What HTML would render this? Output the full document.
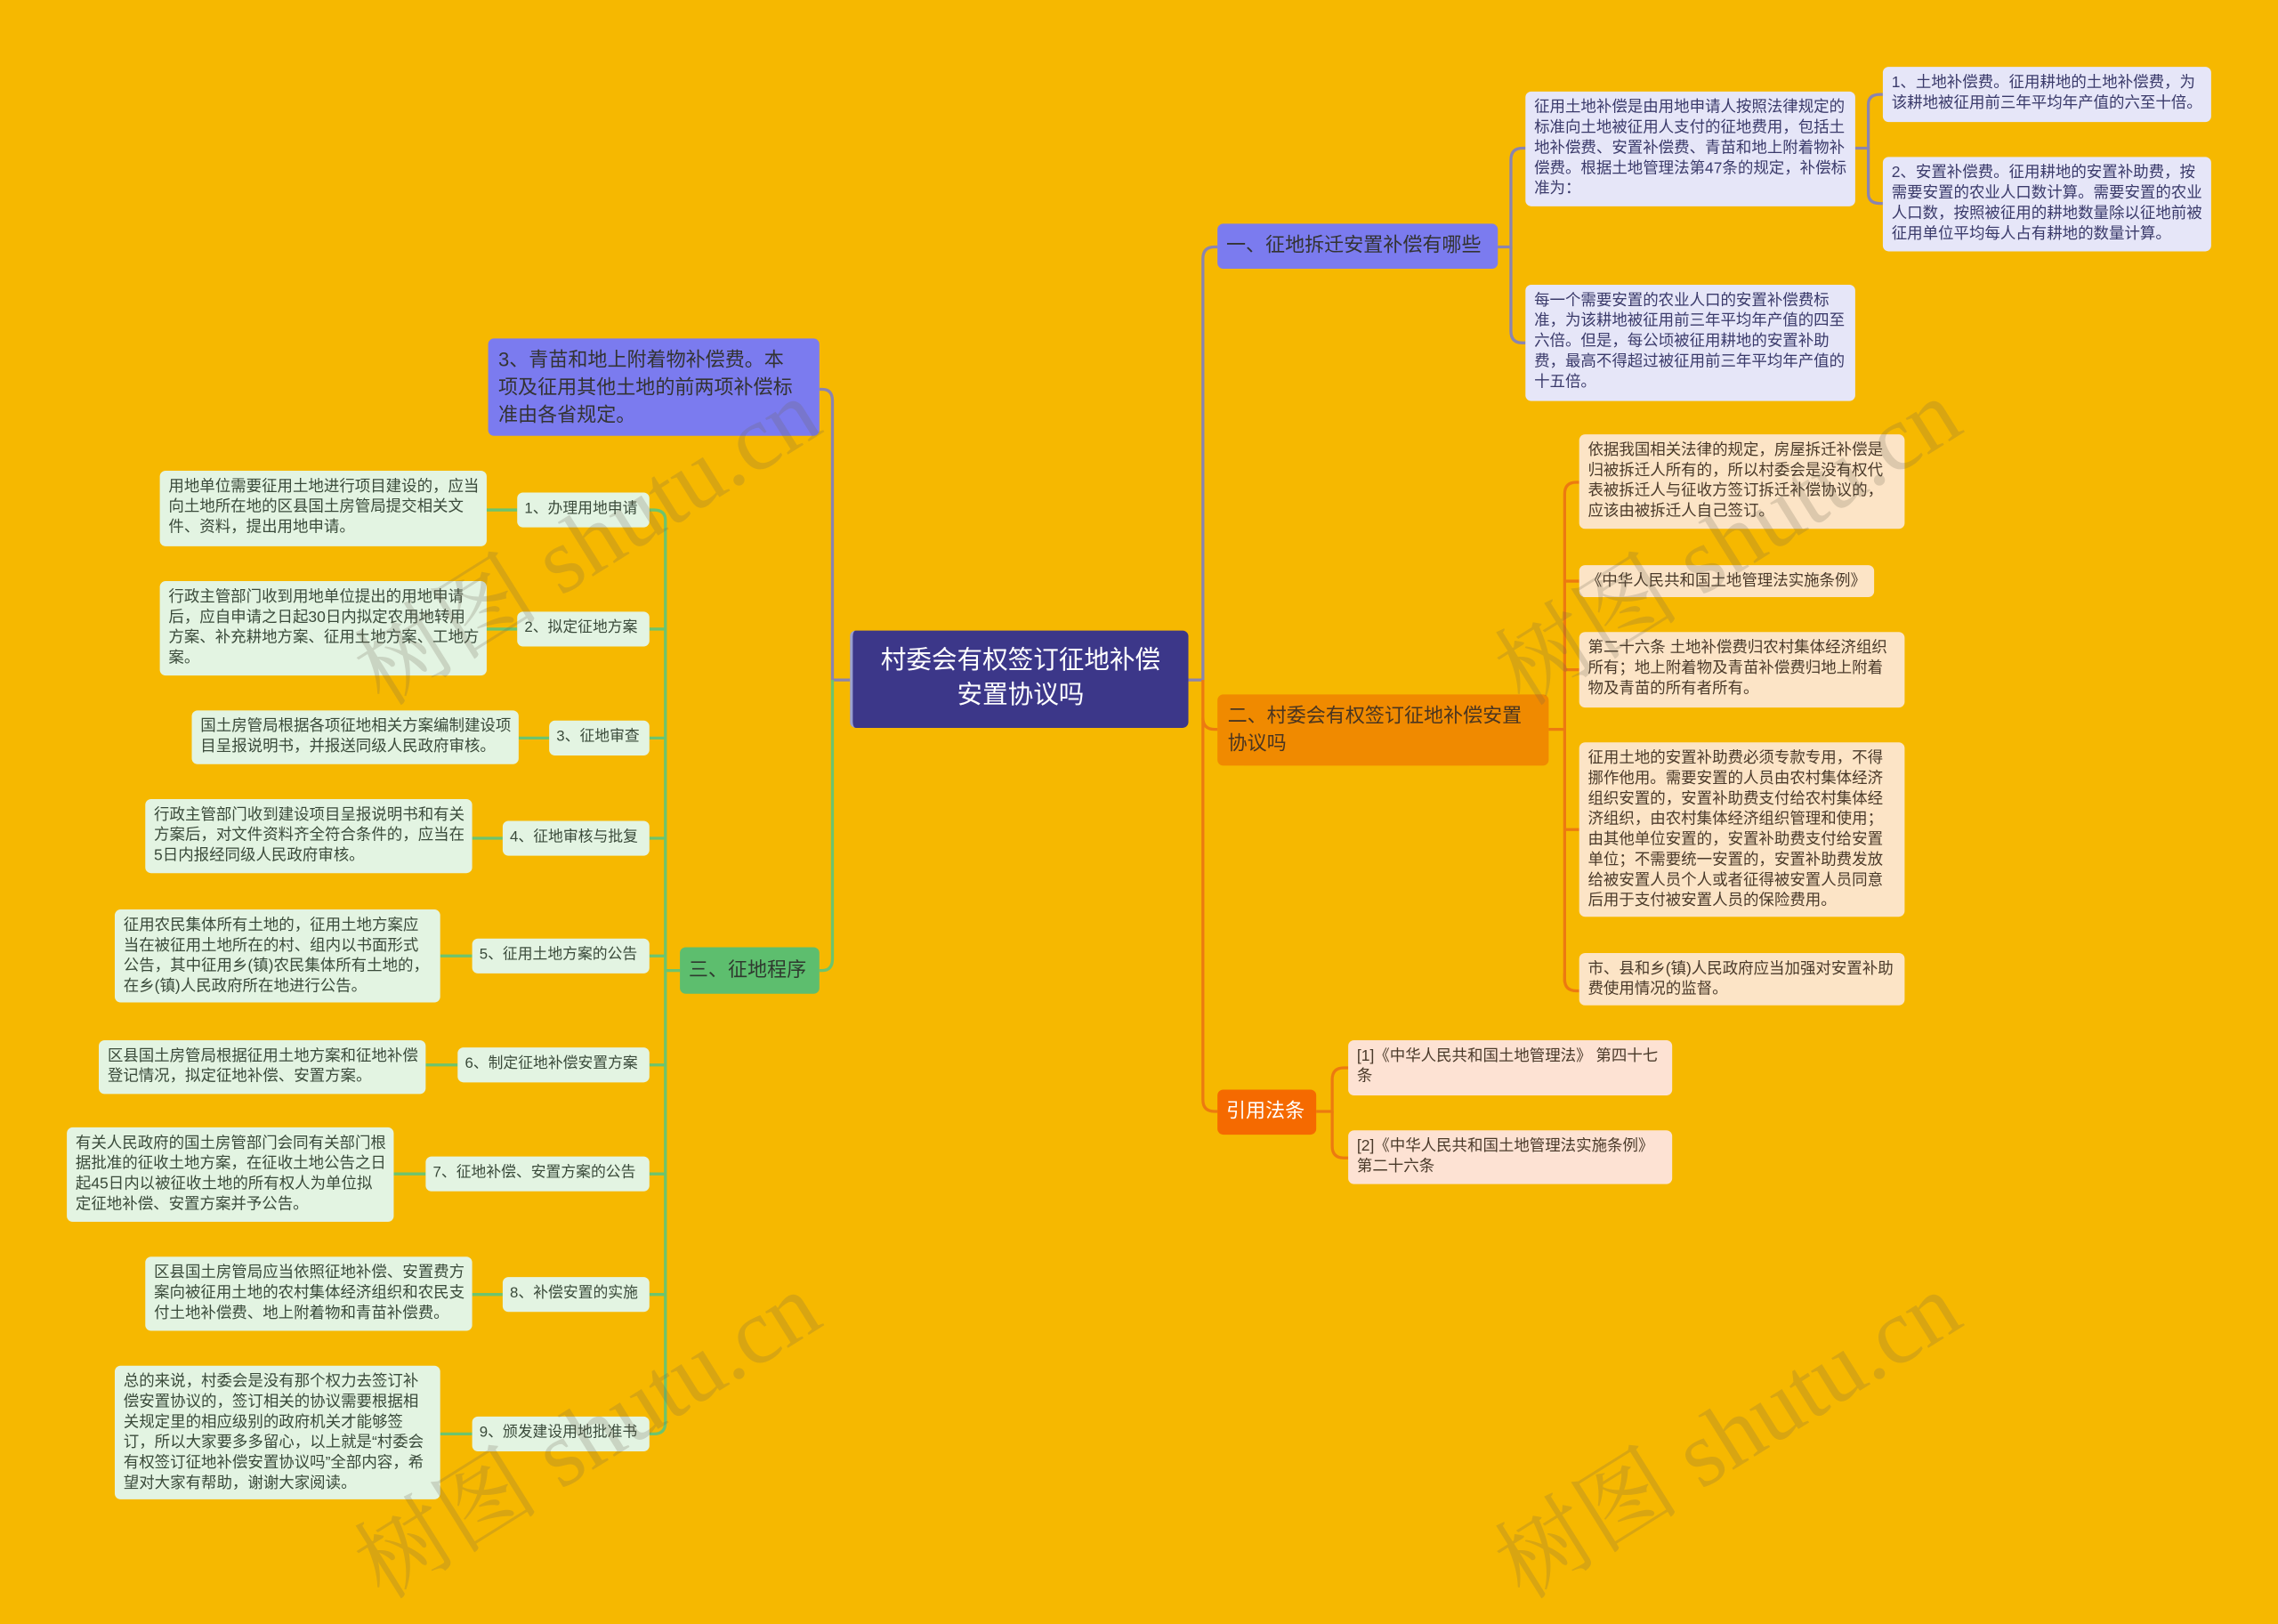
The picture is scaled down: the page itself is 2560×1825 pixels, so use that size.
<!DOCTYPE html>
<html><head><meta charset="utf-8">
<style>
html,body{margin:0;padding:0;background:#F6B800;}
body{width:2560px;height:1762px;overflow:hidden;position:relative;}
#s{position:absolute;left:0;top:0;width:1568px;height:1079px;transform:scale(1.63265);transform-origin:0 0;font-family:"Liberation Sans","Noto Sans CJK SC",sans-serif;}
.b{position:absolute;box-sizing:border-box;border-radius:4px;font-size:10.7px;line-height:14px;color:#444;padding:4px 5px 4px 6px;overflow:hidden;}
.lav{background:#E6E6F8;color:#3a3a6a;}
.pe{background:#FCE4C6;color:#4a3a2a;}
.pk{background:#FDE2D3;color:#4a3a2a;}
.gr{background:#E3F4E2;color:#3a4a3a;}
.lb{padding:5px 5px;white-space:nowrap;font-size:10.3px;}
.nw{white-space:nowrap;}
svg{position:absolute;left:0;top:0;}
.wm{position:absolute;font-family:"Liberation Serif","Noto Serif CJK SC",serif;font-size:64px;color:rgba(110,100,80,0.22);transform:rotate(-32deg);white-space:nowrap;transform-origin:0 0;}
</style></head><body><div id="s">
<svg width="1568" height="1079" fill="none" stroke-width="2">
<g stroke="#8A84B0">
<path d="M818 468 H828 V178 Q828 170 836 170 H838"/>
<path d="M1031 170 H1040 V110 Q1040 102 1048 102 H1050"/>
<path d="M1040 170 V228 Q1040 236 1048 236 H1050"/>
<path d="M1277 102 H1286 V72 Q1286 65 1294 65 H1296"/>
<path d="M1286 102 V133 Q1286 140 1294 140 H1296"/>
<path d="M585 468 H573 V276 Q573 268 566 268 H564"/>
</g>
<g stroke="#EC7A10">
<path d="M828 468 V757 Q828 765 836 765 H838"/>
<path d="M828 494 Q828 502 836 502 H838"/>
<path d="M1066 502 H1077 V340 Q1077 332 1085 332 H1087"/>
<path d="M1077 400 H1087"/><path d="M1077 461 H1087"/><path d="M1077 571 H1087"/><path d="M1077 670 V674 Q1077 682 1085 682 H1087"/>
<path d="M1077 502 V676"/>
<path d="M906 765 H917 V743 Q917 735 925 735 H928"/>
<path d="M917 765 V789 Q917 797 925 797 H928"/>
</g>
<g stroke="#6CC46E">
<path d="M573 468 V660 Q573 668 566 668 H564"/>
<path d="M468 668 H458"/>
<path d="M458 358 V979 Q458 987 450 987 H447"/>
<path d="M447 351 H450 Q458 351 458 358"/>
<path d="M447 433 H458"/><path d="M447 508 H458"/><path d="M447 577 H458"/><path d="M447 658 H458"/><path d="M447 733 H458"/><path d="M447 808 H458"/><path d="M447 891 H458"/>
<path d="M335 351 H356"/><path d="M335 433 H356"/><path d="M357 508 H378"/><path d="M325 577 H346"/><path d="M303 658 H325"/><path d="M293 733 H315"/><path d="M271 808 H293"/><path d="M325 891 H346"/><path d="M303 987 H325"/>
</g>
</svg>

<div class="b" style="left:585px;top:434px;width:233px;height:67px;background:#3C3789;color:#fff;font-size:17.5px;line-height:24px;text-align:center;padding:8px 2px;border-left:2px solid #9aa0d0;white-space:nowrap;">村委会有权签订征地补偿<br>安置协议吗</div>

<div class="b nw" style="left:838px;top:154px;width:193px;height:31px;background:#7B7BEF;color:#333;font-size:13.5px;line-height:20px;padding:5px 6px;">一、征地拆迁安置补偿有哪些</div>
<div class="b lav" style="left:1050px;top:63px;width:227px;height:79px;">征用土地补偿是由用地申请人按照法律规定的标准向土地被征用人支付的征地费用，包括土地补偿费、安置补偿费、青苗和地上附着物补偿费。根据土地管理法第47条的规定，补偿标准为：</div>
<div class="b lav" style="left:1050px;top:196px;width:227px;height:80px;">每一个需要安置的农业人口的安置补偿费标准，为该耕地被征用前三年平均年产值的四至六倍。但是，每公顷被征用耕地的安置补助费，最高不得超过被征用前三年平均年产值的十五倍。</div>
<div class="b lav" style="left:1296px;top:46px;width:226px;height:38px;">1、土地补偿费。征用耕地的土地补偿费，为该耕地被征用前三年平均年产值的六至十倍。</div>
<div class="b lav" style="left:1296px;top:108px;width:226px;height:65px;">2、安置补偿费。征用耕地的安置补助费，按需要安置的农业人口数计算。需要安置的农业人口数，按照被征用的耕地数量除以征地前被征用单位平均每人占有耕地的数量计算。</div>

<div class="b" style="left:336px;top:233px;width:228px;height:67px;background:#7B7BEF;color:#333;font-size:13.5px;line-height:19px;padding:5px 7px;">3、青苗和地上附着物补偿费。本<br>项及征用其他土地的前两项补偿标<br>准由各省规定。</div>

<div class="b" style="left:838px;top:478px;width:228px;height:49px;background:#F08A00;color:#4a3520;font-size:13.5px;line-height:19px;padding:5px 7px;">二、村委会有权签订征地补偿安置<br>协议吗</div>
<div class="b pe" style="left:1087px;top:299px;width:224px;height:65px;">依据我国相关法律的规定，房屋拆迁补偿是归被拆迁人所有的，所以村委会是没有权代表被拆迁人与征收方签订拆迁补偿协议的，应该由被拆迁人自己签订。</div>
<div class="b pe nw" style="left:1087px;top:389px;width:203px;height:22px;padding:4px 5px;">《中华人民共和国土地管理法实施条例》</div>
<div class="b pe" style="left:1087px;top:435px;width:224px;height:52px;">第二十六条 土地补偿费归农村集体经济组织所有；地上附着物及青苗补偿费归地上附着物及青苗的所有者所有。</div>
<div class="b pe" style="left:1087px;top:511px;width:224px;height:120px;">征用土地的安置补助费必须专款专用，不得挪作他用。需要安置的人员由农村集体经济组织安置的，安置补助费支付给农村集体经济组织，由农村集体经济组织管理和使用；由其他单位安置的，安置补助费支付给安置单位；不需要统一安置的，安置补助费发放给被安置人员个人或者征得被安置人员同意后用于支付被安置人员的保险费用。</div>
<div class="b pe" style="left:1087px;top:656px;width:224px;height:36px;">市、县和乡(镇)人民政府应当加强对安置补助费使用情况的监督。</div>

<div class="b nw" style="left:838px;top:750px;width:68px;height:31px;background:#F56A00;color:#fff;font-size:13.5px;line-height:20px;padding:5px 6px;">引用法条</div>
<div class="b pk" style="left:928px;top:716px;width:223px;height:38px;">[1]《中华人民共和国土地管理法》 第四十七<br>条</div>
<div class="b pk" style="left:928px;top:778px;width:223px;height:37px;">[2]《中华人民共和国土地管理法实施条例》<br>第二十六条</div>

<div class="b nw" style="left:468px;top:652px;width:96px;height:32px;background:#5DBE6E;color:#2f3a2f;font-size:13.5px;line-height:20px;padding:6px 6px;">三、征地程序</div>

<div class="b gr lb" style="left:356px;top:339px;width:91px;height:24px;">1、办理用地申请</div>
<div class="b gr" style="left:110px;top:324px;width:225px;height:52px;">用地单位需要征用土地进行项目建设的，应当向土地所在地的区县国土房管局提交相关文件、资料，提出用地申请。</div>
<div class="b gr lb" style="left:356px;top:421px;width:91px;height:24px;">2、拟定征地方案</div>
<div class="b gr" style="left:110px;top:400px;width:225px;height:65px;">行政主管部门收到用地单位提出的用地申请后，应自申请之日起30日内拟定农用地转用方案、补充耕地方案、征用土地方案、工地方案。</div>
<div class="b gr lb" style="left:378px;top:496px;width:69px;height:24px;">3、征地审查</div>
<div class="b gr" style="left:132px;top:489px;width:225px;height:37px;">国土房管局根据各项征地相关方案编制建设项目呈报说明书，并报送同级人民政府审核。</div>
<div class="b gr lb" style="left:346px;top:565px;width:101px;height:24px;">4、征地审核与批复</div>
<div class="b gr" style="left:100px;top:550px;width:225px;height:51px;">行政主管部门收到建设项目呈报说明书和有关方案后，对文件资料齐全符合条件的，应当在5日内报经同级人民政府审核。</div>
<div class="b gr lb" style="left:325px;top:646px;width:122px;height:24px;">5、征用土地方案的公告</div>
<div class="b gr" style="left:79px;top:626px;width:224px;height:64px;">征用农民集体所有土地的，征用土地方案应当在被征用土地所在的村、组内以书面形式公告，其中征用乡(镇)农民集体所有土地的，在乡(镇)人民政府所在地进行公告。</div>
<div class="b gr lb" style="left:315px;top:721px;width:132px;height:24px;">6、制定征地补偿安置方案</div>
<div class="b gr" style="left:68px;top:716px;width:225px;height:37px;">区县国土房管局根据征用土地方案和征地补偿登记情况，拟定征地补偿、安置方案。</div>
<div class="b gr lb" style="left:293px;top:796px;width:154px;height:24px;">7、征地补偿、安置方案的公告</div>
<div class="b gr" style="left:46px;top:776px;width:225px;height:65px;">有关人民政府的国土房管部门会同有关部门根据批准的征收土地方案，在征收土地公告之日起45日内以被征收土地的所有权人为单位拟定征地补偿、安置方案并予公告。</div>
<div class="b gr lb" style="left:346px;top:879px;width:101px;height:24px;">8、补偿安置的实施</div>
<div class="b gr" style="left:100px;top:865px;width:225px;height:51px;">区县国土房管局应当依照征地补偿、安置费方案向被征用土地的农村集体经济组织和农民支付土地补偿费、地上附着物和青苗补偿费。</div>
<div class="b gr lb" style="left:325px;top:975px;width:122px;height:24px;">9、颁发建设用地批准书</div>
<div class="b gr" style="left:79px;top:940px;width:224px;height:92px;">总的来说，村委会是没有那个权力去签订补偿安置协议的，签订相关的协议需要根据相关规定里的相应级别的政府机关才能够签订，所以大家要多多留心，以上就是“村委会有权签订征地补偿安置协议吗”全部内容，希望对大家有帮助，谢谢大家阅读。</div>

<div class="wm" style="left:225px;top:425px;">树图 shutu.cn</div>
<div class="wm" style="left:1010px;top:425px;">树图 shutu.cn</div>
<div class="wm" style="left:225px;top:1040px;">树图 shutu.cn</div>
<div class="wm" style="left:1010px;top:1040px;">树图 shutu.cn</div>
</div></body></html>
